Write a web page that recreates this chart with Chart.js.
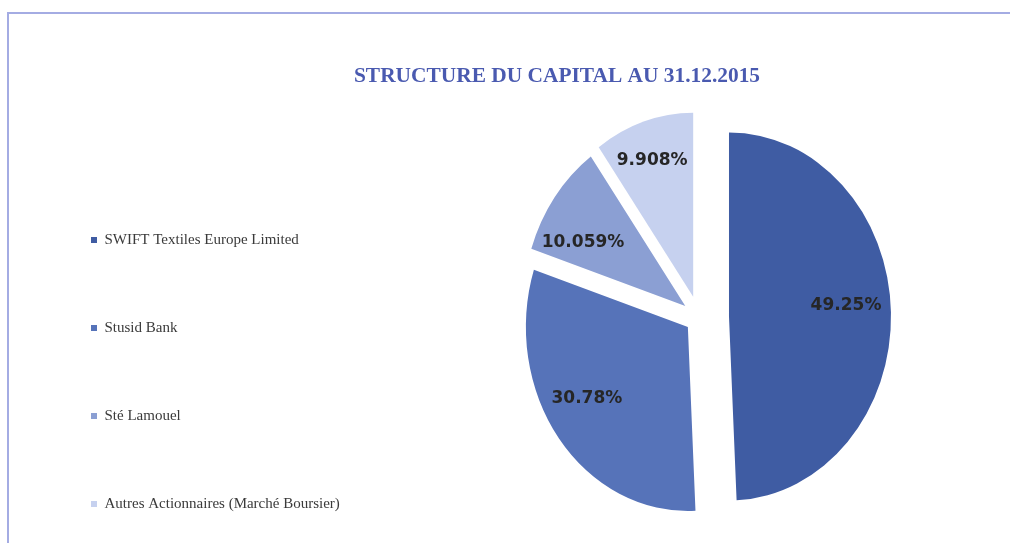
<!DOCTYPE html>
<html>
<head>
<meta charset="utf-8">
<script src="https://cdn.jsdelivr.net/npm/chart.js@4/dist/chart.umd.min.js"></script>
<style>
  html, body { margin: 0; padding: 0; background: #ffffff; overflow: hidden; width: 1010px; height: 543px; }
  #frame { position: absolute; left: 7px; top: 12px; width: 1100px; height: 600px;
           border-top: 2px solid #a4ace3; border-left: 2px solid #a4ace3; }
  #c { position: absolute; left: 0; top: 0; }
</style>
</head>
<body>
<div id="frame"></div>
<canvas id="c" width="1096" height="744"></canvas>
<script>
// ---- data ----
const TITLE = 'STRUCTURE DU CAPITAL AU 31.12.2015';
const CATEGORIES = [
  'SWIFT Textiles Europe Limited',
  'Stusid Bank',
  'Sté Lamouel',
  'Autres Actionnaires (Marché Boursier)'
];
const VALUES = [49.25, 30.78, 10.059, 9.908];

// ---- style ----
const COLORS = ['#3f5ca3', '#5673b9', '#8b9fd3', '#c6d1ef'];
const EXPLODE = [30, 14, 17, 19];        // px each slice is pulled out
const STRETCH_Y = 1.136;                 // pie drawn slightly taller than wide
const LABEL_R = [0.725, 0.734, 0.72, 0.78];   // label distance (fraction of radius)
const LABEL_TURN = [-3.5, 5.4, -7.5, -1.1];   // label angle tweak (degrees)

const explodePlugin = {
  id: 'explodeStretch',
  afterLayout(chart) {
    // let legend text run past the (narrow) legend box without clipping
    const lg = chart.legend;
    if (lg) { lg.right = lg.left + 420; lg.width = 420; }
  },
  beforeDatasetsDraw(chart) {
    const ctx = chart.ctx;
    const meta = chart.getDatasetMeta(0);
    meta.data.forEach((arc, i) => {
      const mid = (arc.startAngle + arc.endAngle) / 2;
      const d = EXPLODE[i] || 0;
      ctx.save();
      ctx.translate(arc.x, arc.y);
      ctx.scale(1, STRETCH_Y);
      ctx.translate(Math.cos(mid) * d, Math.sin(mid) * d);
      ctx.translate(-arc.x, -arc.y);
      arc.draw(ctx);
      ctx.restore();
    });
    // value labels
    ctx.save();
    ctx.font = 'bold 17px "DejaVu Sans"';
    ctx.fillStyle = '#262626';
    ctx.textAlign = 'center';
    ctx.textBaseline = 'middle';
    meta.data.forEach((arc, i) => {
      const mid = (arc.startAngle + arc.endAngle) / 2;
      const d = EXPLODE[i] || 0;
      const cx = arc.x + Math.cos(mid) * d;
      const cy = arc.y + Math.sin(mid) * d * STRETCH_Y;
      const a = mid + (LABEL_TURN[i] || 0) * Math.PI / 180;
      const r = arc.outerRadius * LABEL_R[i];
      ctx.fillText(VALUES[i] + '%', cx + Math.cos(a) * r, cy + Math.sin(a) * r * STRETCH_Y);
    });
    ctx.restore();
    return false;
  }
};

new Chart(document.getElementById('c'), {
  type: 'pie',
  data: {
    labels: CATEGORIES,
    datasets: [{
      data: VALUES,
      backgroundColor: COLORS,
      borderWidth: 0,
      radius: 162
    }]
  },
  options: {
    responsive: false,
    animation: false,
    events: [],
    layout: { padding: { left: 18, right: 0, top: 0, bottom: 0 } },
    plugins: {
      tooltip: { enabled: false },
      title: {
        display: true,
        text: TITLE,
        color: '#4a5ab0',
        font: { family: '"Liberation Serif"', size: 21.4, weight: 'bold' },
        padding: { top: 64, bottom: 10 }
      },
      subtitle: {
        display: true,
        position: 'bottom',
        text: ' ',
        font: { size: 10 },
        padding: { top: 0, bottom: 197 }
      },
      legend: {
        display: true,
        position: 'left',
        align: 'center',
        maxWidth: 284,
        labels: {
          boxWidth: 6,
          boxHeight: 6,
          padding: 73,
          color: '#3a3a3a',
          font: { family: '"Liberation Serif"', size: 15 }
        }
      }
    }
  },
  plugins: [explodePlugin]
});
</script>
</body>
</html>
